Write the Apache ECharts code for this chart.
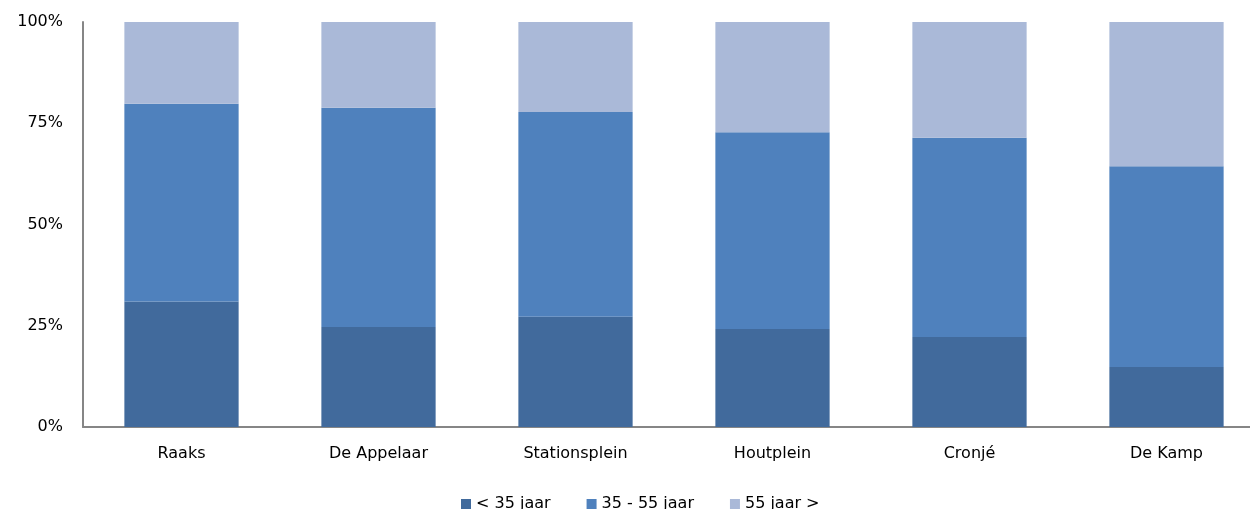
<!DOCTYPE html>
<html>
<head>
<meta charset="utf-8">
<script src="https://cdn.jsdelivr.net/npm/echarts@6/dist/echarts.min.js"></script>
<style>html,body{margin:0;padding:0;background:#fff;}#c{width:1250px;height:509px;}</style>
</head>
<body>
<div id="c"></div>
<script>
const categories = ['Raaks', 'De Appelaar', 'Stationsplein', 'Houtplein', 'Cronjé', 'De Kamp'];
const under35 = [31, 24.7, 27.2, 24.2, 22.2, 14.8];
const from35to55 = [48.8, 54.1, 50.6, 48.6, 49.2, 49.6];
const over55 = [20.2, 21.2, 22.2, 27.2, 28.6, 35.6];
const seriesNames = ['< 35 jaar', '35 - 55 jaar', '55 jaar >'];
const yTicks = ['0%', '25%', '50%', '75%', '100%'];

const colors = ['#416A9C', '#4F81BD', '#AAB9D8'];
const font = "'DejaVu Sans', Verdana, sans-serif";
const chart = echarts.init(document.getElementById('c'));
const dataSets = [under35, from35to55, over55];
chart.setOption({
  animation: false,
  color: colors,
  grid: { left: 83, right: -15, top: 22, bottom: 82, outerBoundsMode: 'none' },
  legend: {
    top: 491, left: 456,
    itemWidth: 10, itemHeight: 10, itemGap: 36,
    icon: 'rect',
    textStyle: { fontFamily: font, fontSize: 16, color: '#000' },
    data: seriesNames
  },
  xAxis: {
    type: 'category',
    data: categories,
    axisLine: { lineStyle: { color: '#868686', width: 2 } },
    axisTick: { show: false },
    axisLabel: { fontFamily: font, fontSize: 16, color: '#000', margin: 19 }
  },
  yAxis: {
    type: 'value', min: 0, max: 100, interval: 25,
    axisLine: { show: true, lineStyle: { color: '#868686', width: 2 } },
    axisTick: { show: false },
    splitLine: { show: false },
    axisLabel: {
      fontFamily: font, fontSize: 16, color: '#000', margin: 20,
      formatter: v => yTicks[v / 25]
    }
  },
  series: dataSets.map((d, i) => ({
    name: seriesNames[i],
    type: 'bar',
    stack: 'total',
    barWidth: '58%',
    data: d
  }))
});
</script>
</body>
</html>
